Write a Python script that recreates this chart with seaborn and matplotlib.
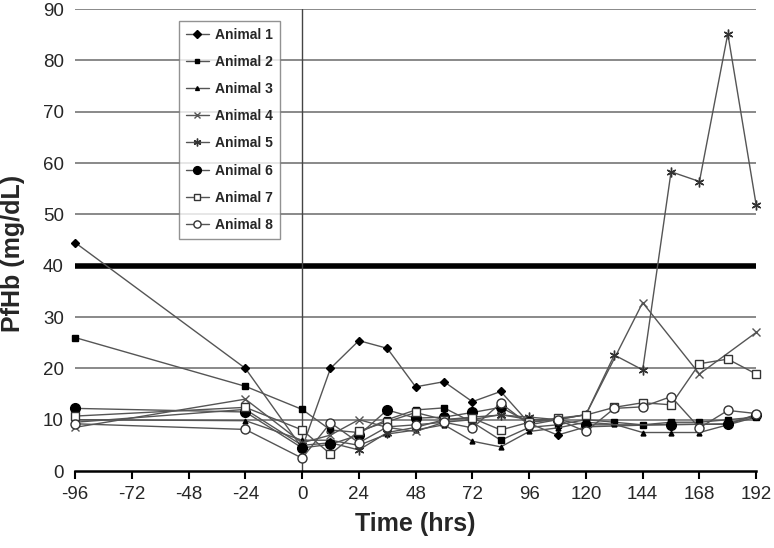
import numpy as np
import pandas as pd
import matplotlib
matplotlib.use('Agg')
import matplotlib.pyplot as plt
import seaborn as sns

# Dados (PfHb em mg/dL por tempo em horas)
tempos = [-96, -24, 0, 12, 24, 36, 48, 60, 72, 84, 96, 108, 120, 132, 144, 156, 168, 180, 192]

animal_1 = [44.5, 20.0, 4.5, 20.0, 25.4, 23.9, 16.4, 17.4, 13.5, 15.5, 9.3, 7.0, 8.6, None, None, 9.1, None, 9.1, 10.9]
animal_2 = [26.0, 16.5, 12.0, 8.0, 7.5, 10.0, 11.9, 12.3, 9.5, 6.0, 8.5, 9.0, 10.0, 9.5, 9.0, 9.5, 9.5, 10.0, 10.5]
animal_3 = [10.0, 9.8, 6.0, 6.0, 5.0, 7.2, 8.0, 9.0, 5.8, 4.7, 7.7, 8.4, 9.5, 9.1, 7.5, 7.5, 7.5, 9.0, 10.5]
animal_4 = [8.5, 14.0, 5.5, 7.0, 10.0, 8.5, 7.7, 9.5, 10.0, 11.0, 10.0, 10.0, 11.0, None, 32.8, None, 18.9, None, 27.0]
animal_5 = [9.5, 12.0, 5.0, 5.5, 4.1, 7.5, 8.5, 10.0, 10.5, 10.9, 10.5, 10.0, 11.0, 22.6, 19.7, 58.3, 56.4, 85.2, 51.8]
animal_6 = [12.2, 11.5, 4.5, 5.2, 7.0, 11.9, 10.3, 10.5, 11.4, 12.4, 9.5, 10.0, 9.0, None, None, 9.0, None, 9.2, 11.0]
animal_7 = [10.7, 12.4, 8.0, 3.3, 7.8, 9.6, 11.4, 10.0, 10.3, 8.0, 9.5, 10.3, 10.9, 12.4, 13.3, 12.9, 20.9, 21.8, 18.9]
animal_8 = [9.2, 8.1, 2.5, 9.4, 5.5, 8.6, 9.0, 9.5, 8.4, 13.2, 9.0, 10.0, 7.7, 12.2, 12.5, 14.5, 8.4, 11.8, 11.2]

nomes = ['Animal 1', 'Animal 2', 'Animal 3', 'Animal 4',
         'Animal 5', 'Animal 6', 'Animal 7', 'Animal 8']
series = [animal_1, animal_2, animal_3, animal_4,
          animal_5, animal_6, animal_7, animal_8]

linhas = []
for nome, valores in zip(nomes, series):
    for t, v in zip(tempos, valores):
        if v is not None:
            linhas.append({'tempo': t, 'pfhb': v, 'animal': nome})
df = pd.DataFrame(linhas)

sns.set_theme(style='white')
plt.rcParams['font.family'] = ['Liberation Sans', 'DejaVu Sans']
plt.rcParams['axes.unicode_minus'] = False

# marcador, tamanho, cor de preenchimento, cor da borda
estilos = {
    'Animal 1': ('D', 4.5, 'black', 'black'),
    'Animal 2': ('s', 4, 'black', 'black'),
    'Animal 3': ('^', 3.5, 'black', 'black'),
    'Animal 4': ('x', 6, 'none', '#555555'),
    'Animal 5': ((6, 2, 0), 7, 'none', '#333333'),
    'Animal 6': ('o', 7, 'black', 'black'),
    'Animal 7': ('s', 6, 'white', '#333333'),
    'Animal 8': ('o', 6.5, 'white', '#333333'),
}

fig = plt.figure(figsize=(7.74, 5.48), dpi=100)
ax = fig.add_axes([0.097, 0.1405, 0.88, 0.843])

# grade horizontal e linha de referência
for y in range(10, 100, 10):
    ax.axhline(y, color='#808080', lw=1.3, zorder=0)
ax.axhline(40, color='black', lw=4, zorder=1)
ax.axvline(0, color='#444444', lw=1, zorder=1)

sns.lineplot(data=df, x='tempo', y='pfhb', hue='animal', style='animal',
             hue_order=nomes, style_order=nomes,
             palette=['#555555'] * 8, dashes=False, markers=True,
             estimator=None, errorbar=None, linewidth=1, ax=ax, legend=False)

handles = []
for linha, nome in zip(ax.get_lines()[-8:], nomes):
    m, ms, fc, ec = estilos[nome]
    linha.set_marker(m)
    linha.set_markersize(ms)
    linha.set_markerfacecolor(fc)
    linha.set_markeredgecolor(ec)
    linha.set_markeredgewidth(1)
    linha.set_clip_on(False)
    linha.set_zorder(3)
    handles.append(linha)

ax.set_xlim(-96, 192)
ax.set_ylim(0, 90)
ax.set_xticks(range(-96, 193, 24))
ax.set_yticks(range(0, 91, 10))
ax.tick_params(axis='x', direction='out', length=6, width=1.5, color='black',
               labelsize=13.5, pad=5, bottom=True)
ax.tick_params(axis='y', length=0, labelsize=13.5, pad=8)

for lado in ['top', 'right', 'left']:
    ax.spines[lado].set_visible(False)
ax.spines['bottom'].set_color('black')
ax.spines['bottom'].set_linewidth(1.8)
ax.spines['bottom'].set_zorder(4)

ax.set_xlabel('Time (hrs)', fontsize=18, fontweight='bold', labelpad=6)
ax.set_ylabel('PfHb (mg/dL)', fontsize=18, fontweight='bold')
ax.yaxis.set_label_coords(-0.073, 0.47)

leg = ax.legend(handles, nomes, loc='upper left', bbox_to_anchor=(0.152, 0.975),
                prop={'size': 10, 'weight': 'bold'}, frameon=True, fancybox=False,
                edgecolor='#777777', labelspacing=0.95, handlelength=1.7,
                handletextpad=0.4, borderpad=0.5, borderaxespad=0)
leg.get_frame().set_linewidth(1)
for h in leg.legend_handles:
    h.set_markersize(h.get_markersize() * 0.8)

fig.savefig('out.png', dpi=100)
